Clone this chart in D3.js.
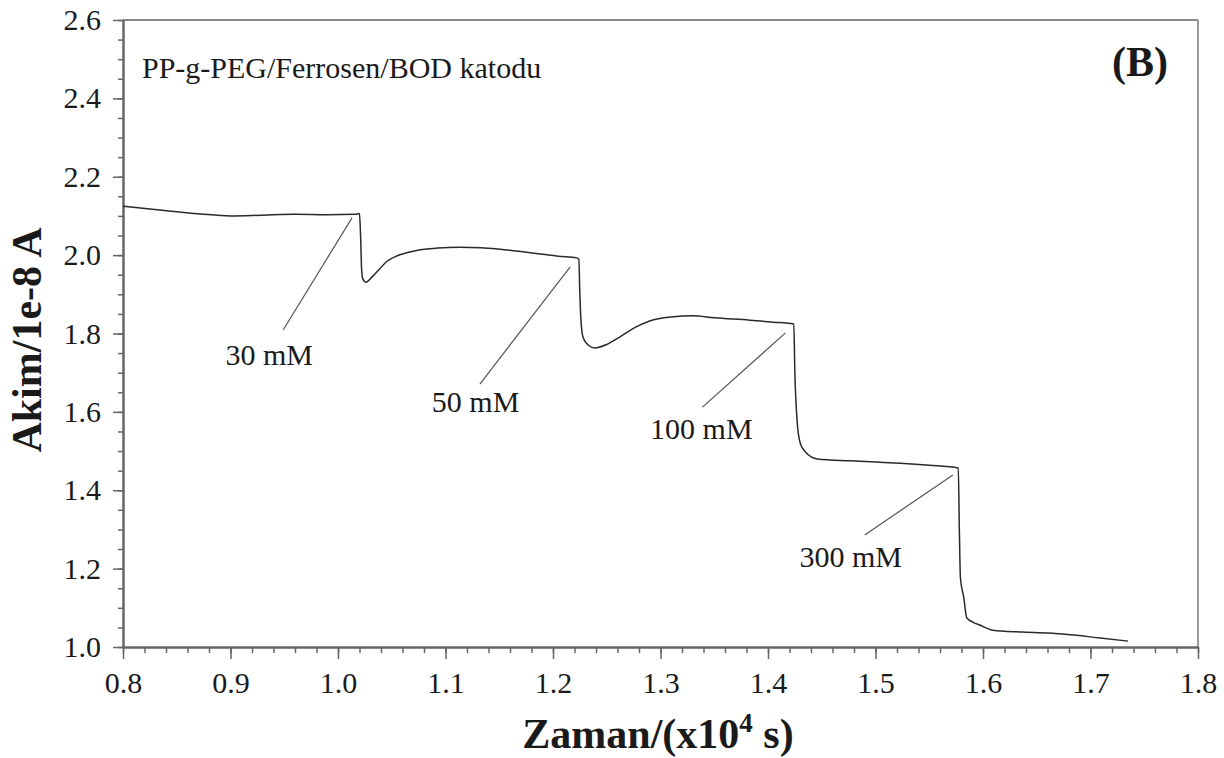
<!DOCTYPE html>
<html lang="tr">
<head>
    <meta charset="UTF-8">
    <title>PP-g-PEG/Ferrosen/BOD katodu</title>
    <script src="https://d3js.org/d3.v7.min.js"></script>
    <style>
        body { margin: 0; background: #fff; }
    </style>
</head>
<body>
    <svg width="1224" height="758"></svg>

    <script>
        // time (x10^4 s) and current (1e-8 A)
        const time = [0.800, 0.834, 0.872, 0.900, 0.930, 0.960, 0.990, 1.016, 1.020, 1.021, 1.022, 1.023, 1.026, 1.032, 1.046,
            1.060, 1.073, 1.093, 1.113, 1.133, 1.151, 1.170, 1.188, 1.205, 1.222, 1.224, 1.225, 1.226, 1.228, 1.233, 1.239,
            1.250, 1.262, 1.276, 1.290, 1.310, 1.330, 1.350, 1.383, 1.405, 1.424, 1.425, 1.427, 1.430, 1.435, 1.446, 1.476,
            1.500, 1.523, 1.550, 1.577, 1.578, 1.579, 1.582, 1.585, 1.591, 1.597, 1.609, 1.637, 1.674, 1.709, 1.735];
        const current = [2.125, 2.115, 2.105, 2.100, 2.102, 2.104, 2.103, 2.104, 2.106, 2.050, 1.962, 1.940, 1.931, 1.945, 1.985,
            2.003, 2.012, 2.018, 2.020, 2.019, 2.015, 2.009, 2.003, 1.997, 1.993, 1.990, 1.900, 1.834, 1.790, 1.770, 1.763,
            1.772, 1.791, 1.815, 1.832, 1.842, 1.845, 1.840, 1.834, 1.829, 1.824, 1.700, 1.580, 1.520, 1.497, 1.480, 1.475,
            1.472, 1.469, 1.464, 1.457, 1.300, 1.176, 1.128, 1.074, 1.063, 1.056, 1.043, 1.038, 1.033, 1.023, 1.015];

        // concentration labels with leader lines (data coords)
        const labels = ["30 mM", "50 mM", "100 mM", "300 mM"];
        const lineFrom = [[1.013, 2.095], [1.216, 1.970], [1.416, 1.801], [1.572, 1.439]];
        const lineTo = [[0.949, 1.809], [1.132, 1.671], [1.339, 1.612], [1.490, 1.286]];
        const labelAt = [[0.936, 1.720], [1.128, 1.600], [1.338, 1.532], [1.477, 1.204]];

        const xTicks = [0.8, 0.9, 1.0, 1.1, 1.2, 1.3, 1.4, 1.5, 1.6, 1.7, 1.8];
        const yTicks = [1.0, 1.2, 1.4, 1.6, 1.8, 2.0, 2.2, 2.4, 2.6];

        const serif = "'Liberation Serif', 'Times New Roman', serif";
        const ink = "#1a1a1a";

        const svg = d3.select("svg");
        const plotL = 123, plotR = 1198, plotT = 20, plotB = 647;

        const x = d3.scaleLinear().domain([0.8, 1.8]).range([plotL, plotR]);
        const y = d3.scaleLinear().domain([1.0, 2.6]).range([plotB, plotT]);

        // frame: top/right lighter
        svg.append("line").attr("x1", plotL).attr("x2", plotR).attr("y1", plotT).attr("y2", plotT)
            .attr("stroke", "#888").attr("stroke-width", 2);
        svg.append("line").attr("x1", plotR).attr("x2", plotR).attr("y1", plotT).attr("y2", plotB)
            .attr("stroke", "#999").attr("stroke-width", 2);

        const minorX = d3.range(0.8, 1.8001, 0.02).map(d => +d.toFixed(2));
        const minorY = d3.range(1.0, 2.6001, 0.05).map(d => +d.toFixed(2));

        function styleAxis(g) {
            g.attr("font-family", null).attr("font-size", null);
            g.selectAll("path.domain").attr("stroke", "#666").attr("stroke-width", 2);
            g.selectAll(".tick line").attr("stroke", "#666").attr("stroke-width", 1.5);
            g.selectAll(".tick text").style("font-family", serif).style("font-size", "30px").attr("fill", ink);
        }

        svg.append("g").attr("transform", `translate(0,${plotB})`)
            .call(d3.axisBottom(x).tickValues(minorX).tickSize(6).tickSizeOuter(0).tickFormat(""))
            .call(styleAxis);
        svg.append("g").attr("transform", `translate(${plotL},0)`)
            .call(d3.axisLeft(y).tickValues(minorY).tickSize(5).tickSizeOuter(0).tickFormat(""))
            .call(styleAxis);

        svg.append("g").attr("transform", `translate(0,${plotB})`)
            .call(d3.axisBottom(x).tickValues(xTicks).tickSize(12).tickSizeOuter(0).tickPadding(13).tickFormat(d3.format(".1f")))
            .call(styleAxis);

        svg.append("g").attr("transform", `translate(${plotL},0)`)
            .call(d3.axisLeft(y).tickValues(yTicks).tickSize(10).tickSizeOuter(0).tickPadding(12).tickFormat(d3.format(".1f")))
            .call(styleAxis);

        // trace
        const line = d3.line().x((d, i) => x(time[i])).y((d, i) => y(current[i])).curve(d3.curveMonotoneX);
        svg.append("path").datum(current).attr("d", line)
            .attr("fill", "none").attr("stroke", "#2a2a2a").attr("stroke-width", 1.5);

        function label(sel, size, bold) {
            return sel.style("font-family", serif).style("font-size", size + "px")
                .style("font-weight", bold ? "bold" : "normal").attr("fill", ink);
        }

        // leader lines + labels
        labels.forEach((t, i) => {
            svg.append("line")
                .attr("x1", x(lineFrom[i][0])).attr("y1", y(lineFrom[i][1]))
                .attr("x2", x(lineTo[i][0])).attr("y2", y(lineTo[i][1]))
                .attr("stroke", "#555").attr("stroke-width", 1.2);
            svg.append("text").attr("x", x(labelAt[i][0])).attr("y", y(labelAt[i][1]))
                .attr("text-anchor", "middle").call(label, 30).text(t);
        });

        svg.append("text").attr("x", 142).attr("y", 78).call(label, 30)
            .text("PP-g-PEG/Ferrosen/BOD katodu");
        svg.append("text").attr("x", 1168).attr("y", 76).attr("text-anchor", "end")
            .call(label, 42, true).text("(B)");

        // axis titles
        const xt = svg.append("text").attr("x", 658).attr("y", 748).attr("text-anchor", "middle")
            .call(label, 42, true);
        xt.append("tspan").text("Zaman/(x10");
        xt.append("tspan").style("font-size", "27px").attr("dy", -16).text("4");
        xt.append("tspan").attr("dy", 16).text(" s)");

        svg.append("text").attr("transform", "translate(41,340) rotate(-90)")
            .attr("text-anchor", "middle").call(label, 42, true)
            .text("Akim/1e-8 A");
    </script>
</body>
</html>
